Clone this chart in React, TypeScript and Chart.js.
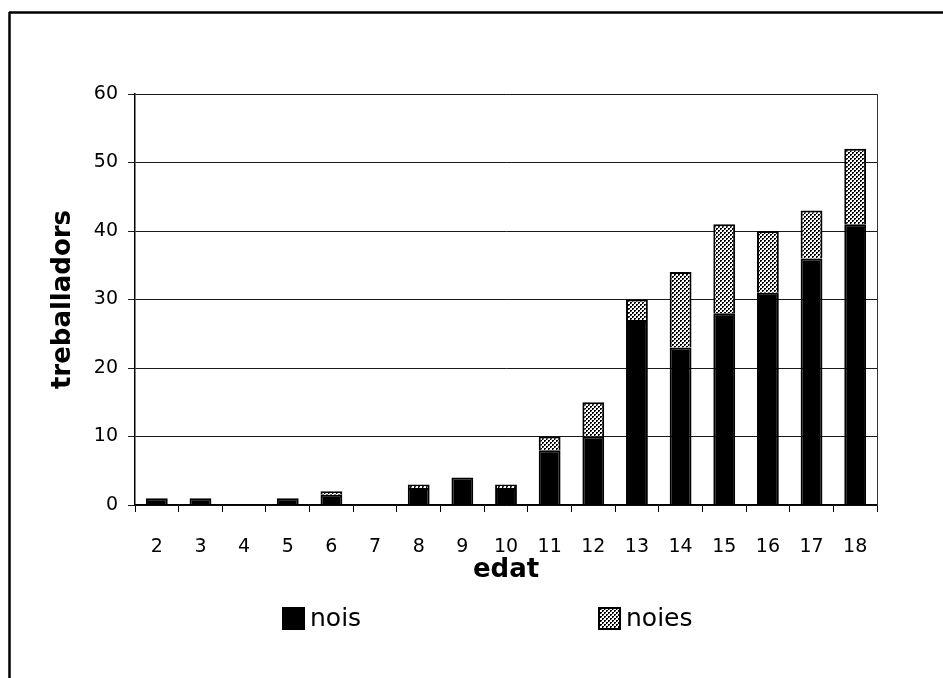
import React, { useEffect, useRef } from "react";
import { Chart, registerables } from "chart.js";

Chart.register(...registerables);

// ---- data ----
const ages = ["2", "3", "4", "5", "6", "7", "8", "9", "10", "11", "12", "13", "14", "15", "16", "17", "18"];
const nois = [1, 1, 0, 1, 1.5, 0, 2.5, 4, 2.5, 8, 10, 27, 23, 28, 31, 36, 41];
const noies = [0, 0, 0, 0, 0.5, 0, 0.5, 0, 0.5, 2, 5, 3, 11, 13, 9, 7, 11];
const seriesNames = ["nois", "noies"];
const yMin = 0;
const yMax = 60;
const yStep = 10;
const xTitle = "edat";
const yTitle = "treballadors";

const FONT = "'DejaVu Sans', 'Liberation Sans', sans-serif";

function makePattern(): CanvasPattern | string {
  const c = document.createElement("canvas");
  c.width = 4;
  c.height = 4;
  const g = c.getContext("2d");
  if (!g) return "#999";
  g.fillStyle = "#ffffff";
  g.fillRect(0, 0, 4, 4);
  g.fillStyle = "#000000";
  g.fillRect(0, 0, 2, 1);
  g.fillRect(0, 1, 1, 1);
  g.fillRect(2, 2, 2, 1);
  g.fillRect(2, 3, 1, 1);
  g.fillStyle = "#9a9a9a";
  g.fillRect(1, 1, 1, 1);
  g.fillRect(3, 3, 1, 1);
  return g.createPattern(c, "repeat") || "#999";
}

const framePlugin = {
  id: "frame",
  beforeDraw(chart: any) {
    const ctx = chart.ctx as CanvasRenderingContext2D;
    ctx.save();
    ctx.fillStyle = "#ffffff";
    ctx.fillRect(0, 0, chart.width, chart.height);
    ctx.strokeStyle = "#000000";
    ctx.lineWidth = 2.5;
    ctx.beginPath();
    ctx.moveTo(9, 12.5);
    ctx.lineTo(chart.width, 12.5);
    ctx.moveTo(9.5, 12);
    ctx.lineTo(9.5, chart.height);
    ctx.stroke();
    ctx.restore();
  },
  afterDraw(chart: any) {
    const ctx = chart.ctx as CanvasRenderingContext2D;
    const a = chart.chartArea;
    ctx.save();
    ctx.strokeStyle = "#333333";
    ctx.lineWidth = 1;
    ctx.beginPath();
    ctx.moveTo(a.right + 0.5, a.top);
    ctx.lineTo(a.right + 0.5, a.bottom);
    ctx.stroke();
    // custom legend
    const boxLefts = [282, 598];
    const box = 23;
    const boxTop = 607;
    chart.data.datasets.forEach((ds: any, i: number) => {
      const x = boxLefts[i];
      ctx.fillStyle = ds.backgroundColor;
      ctx.fillRect(x, boxTop, box, box);
      ctx.strokeStyle = "#000000";
      ctx.lineWidth = 2;
      ctx.strokeRect(x + 1, boxTop + 1, box - 2, box - 2);
      ctx.fillStyle = "#000000";
      ctx.font = `25px ${FONT}`;
      ctx.textBaseline = "middle";
      ctx.textAlign = "left";
      ctx.fillText(ds.label, x + box + 5, boxTop + box / 2 + 1);
    });
    ctx.restore();
  },
};

export default function App() {
  const ref = useRef<HTMLCanvasElement | null>(null);

  useEffect(() => {
    document.body.style.margin = "0";
    const canvas = ref.current;
    if (!canvas) return;
    const pattern = makePattern();
    const chart = new Chart(canvas, {
      type: "bar",
      data: {
        labels: ages,
        datasets: [
          {
            label: seriesNames[0],
            data: nois,
            backgroundColor: "#000000",
            borderColor: "#000000",
            borderWidth: 2,
            barPercentage: 0.5,
            categoryPercentage: 1,
          },
          {
            label: seriesNames[1],
            data: noies,
            backgroundColor: pattern as any,
            borderColor: "#000000",
            borderWidth: 2,
            barPercentage: 0.5,
            categoryPercentage: 1,
          },
        ],
      },
      options: {
        responsive: false,
        animation: false,
        layout: { padding: { left: 0, top: 94, right: 66, bottom: 92 } },
        plugins: {
          legend: { display: false },
          title: { display: false },
          tooltip: { enabled: false },
        },
        scales: {
          x: {
            stacked: true,
            grid: {
              display: true,
              drawOnChartArea: false,
              drawTicks: true,
              tickLength: 7,
              color: "#000000",
              lineWidth: 1,
              offset: true,
            },
            border: { display: true, color: "#000000", width: 1.5 },
            ticks: {
              color: "#000000",
              font: { family: FONT, size: 19 },
              padding: 24,
              maxRotation: 0,
              autoSkip: false,
            },
            title: {
              display: true,
              text: xTitle,
              color: "#000000",
              font: { family: FONT, size: 26, weight: "bold" },
              padding: { top: 0, bottom: 0 },
            },
            afterFit: (s: any) => {
              s.height = 81;
            },
          },
          y: {
            stacked: true,
            min: yMin,
            max: yMax,
            ticks: {
              stepSize: yStep,
              color: "#000000",
              font: { family: FONT, size: 19 },
              padding: 10,
            },
            grid: {
              color: "#1a1a1a",
              lineWidth: 1,
              drawTicks: true,
              tickLength: 7,
            },
            border: { display: true, color: "#000000", width: 1.5 },
            title: {
              display: true,
              text: yTitle,
              color: "#000000",
              font: { family: FONT, size: 26, weight: "bold" },
              padding: { top: 48, bottom: 0 },
            },
            afterFit: (s: any) => {
              s.width = 135;
            },
          },
        },
      },
      plugins: [framePlugin],
    });
    return () => chart.destroy();
  }, []);

  return (
    <div style={{ width: 943, height: 678 }}>
      <canvas ref={ref} width={943} height={678} style={{ display: "block" }} />
    </div>
  );
}
